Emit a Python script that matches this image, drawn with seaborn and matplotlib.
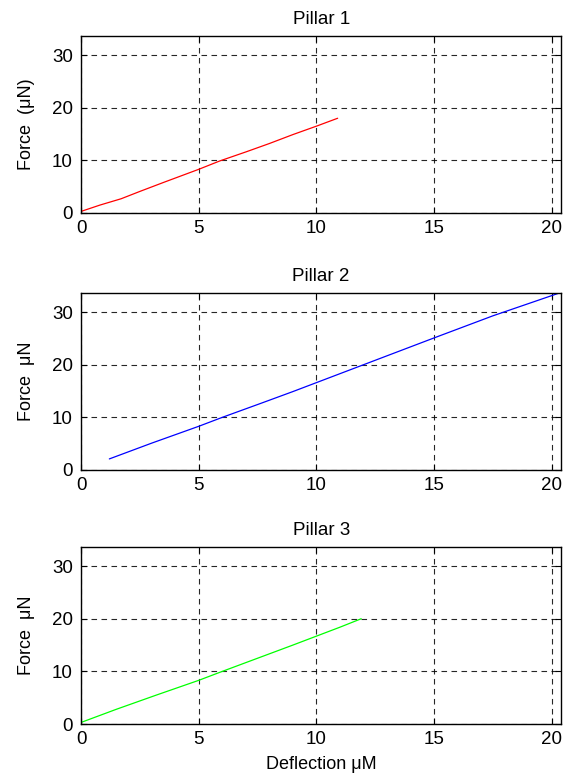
import numpy as np
import pandas as pd
import seaborn as sns
from matplotlib import pyplot as plt

# values (deflection in uM, force in uN)
pillar1_x = [0.0, 0.8, 1.7, 2.5, 3.5, 5.0, 5.9, 7.0, 8.0, 9.0, 10.0, 10.9]
pillar1_y = [0.3, 1.5, 2.7, 4.1, 5.8, 8.3, 9.9, 11.6, 13.2, 14.9, 16.5, 18.0]

pillar2_x = [1.2, 3.0, 5.0, 6.0, 7.6, 9.0, 10.0, 12.0, 15.0, 17.5, 20.3]
pillar2_y = [2.1, 5.1, 8.3, 10.0, 12.6, 14.9, 16.6, 20.0, 25.1, 29.3, 33.6]

pillar3_x = [0.0, 1.5, 3.2, 5.0, 6.0, 7.5, 9.0, 10.0, 11.0, 11.9]
pillar3_y = [0.3, 2.8, 5.5, 8.3, 10.0, 12.5, 15.0, 16.7, 18.4, 20.0]

titles = ["Pillar 1", "Pillar 2", "Pillar 3"]
ylabels = ["Force  (\u03bcN)", "Force  \u03bcN", "Force  \u03bcN"]
colors = ["#ff0000", "#0000ff", "#00ff00"]
xticks = [0, 5, 10, 15, 20]
yticks = [0, 10, 20, 30]


def main():
    sns.set_style("ticks")
    plt.rcParams["font.family"] = ["Liberation Sans", "DejaVu Sans"]
    for k in ["text.color", "axes.labelcolor", "xtick.color", "ytick.color"]:
        plt.rcParams[k] = "black"

    df = pd.concat(
        [
            pd.DataFrame({"x": pillar1_x, "y": pillar1_y, "pillar": titles[0]}),
            pd.DataFrame({"x": pillar2_x, "y": pillar2_y, "pillar": titles[1]}),
            pd.DataFrame({"x": pillar3_x, "y": pillar3_y, "pillar": titles[2]}),
        ]
    )

    fig = plt.figure(figsize=(5.71, 7.79), dpi=100)
    bottoms = [0.7266, 0.3967, 0.0706]

    for i, name in enumerate(titles):
        ax = fig.add_axes([0.142, bottoms[i], 0.841, 0.227])
        sub = df[df["pillar"] == name]
        sns.lineplot(
            data=sub,
            x="x",
            y="y",
            ax=ax,
            color=colors[i],
            linewidth=0.9,
            estimator=None,
            sort=False,
        )
        ax.set_xlim(0, 20.4)
        ax.set_ylim(0, 33.6)
        ax.set_xticks(xticks)
        ax.set_yticks(yticks)
        ax.grid(True, color="black", linestyle=(0, (5, 4)), linewidth=0.8, alpha=0.85)
        ax.tick_params(
            direction="in", top=True, right=True, labelsize=13.5, length=4, width=0.8
        )
        ax.tick_params(axis="x", pad=5)
        ax.tick_params(axis="y", pad=6)
        for s in ax.spines.values():
            s.set_linewidth(1.0)
            s.set_color("black")
        ax.set_title(name, fontsize=13.5, pad=9)
        ax.set_ylabel(ylabels[i], fontsize=13, labelpad=12)
        if i == 2:
            ax.set_xlabel("Deflection \u03bcM", fontsize=13, labelpad=6)
        else:
            ax.set_xlabel("")

    plt.savefig("out.png", dpi=100)


if __name__ == "__main__":
    main()
